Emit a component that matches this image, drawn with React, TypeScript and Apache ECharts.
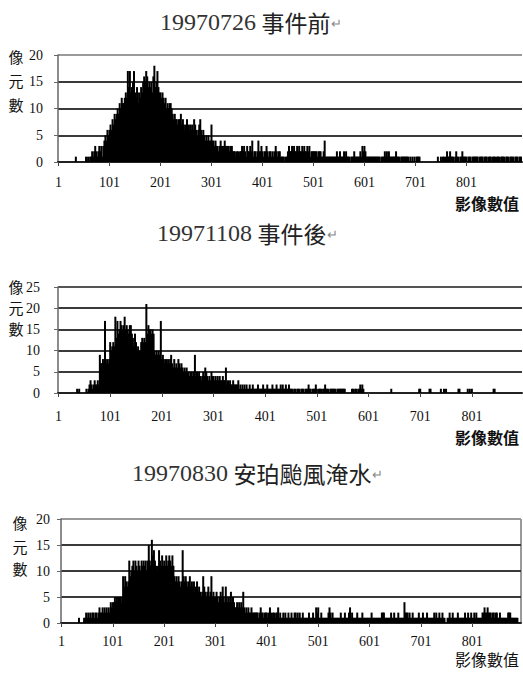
import React, { useEffect, useRef } from 'react';
import * as echarts from 'echarts';

// ---------- data ----------
const TITLE_DATES = ['19970726', '19971108', '19970830'];
const TITLE_EVENTS = ['事件前', '事件後', '安珀颱風淹水'];
const Y_NAME_CHARS = ['像', '元', '數'];
const X_NAME = '影像數值';
const X_TICK_LABELS = ['1', '101', '201', '301', '401', '501', '601', '701', '801'];
const Y_MAX = [20, 25, 20];
const Y_STEP = 5;
const BIN_WIDTH = 2; // each bar = 2 consecutive image values

// pixel counts per bin (image values 1-2, 3-4, ...)
const COUNTS_BEFORE = [
  0,0,0,0,0,0,0,0,0,0,
  0,0,0,0,0,0,0,1,0,0,
  0,0,0,0,0,0,0,1,0,1,
  0,1,1,2,1,2,3,2,1,2,
  3,2,3,1,3,4,5,4,6,5,
  6,7,6,8,7,9,8,9,10,9,
  11,10,12,11,11,12,13,12,17,14,
  17,13,14,15,17,13,12,14,11,13,
  12,14,13,15,16,15,17,16,14,15,
  14,15,13,16,18,14,15,17,14,13,
  13,12,13,12,11,12,10,11,10,11,
  11,10,9,8,9,8,8,7,8,8,
  9,7,8,7,6,7,8,7,6,7,
  6,7,6,8,7,6,5,6,7,8,
  6,5,6,5,4,5,4,5,4,4,
  7,4,4,3,4,3,3,2,3,4,
  3,3,3,4,3,3,3,3,2,3,
  3,2,2,2,1,2,2,1,2,2,
  3,2,3,2,1,3,2,2,3,2,
  4,1,2,2,1,2,4,2,2,3,
  2,1,2,2,3,2,1,2,2,1,
  2,1,2,3,2,1,2,2,1,1,
  1,1,0,1,1,2,3,2,2,3,
  2,3,2,2,3,2,3,2,2,3,
  2,3,2,2,3,2,3,1,2,2,
  2,2,2,2,1,2,2,2,1,1,
  2,4,1,1,1,1,1,1,1,1,
  1,1,1,2,1,1,2,1,1,1,
  2,1,2,1,1,1,0,1,1,1,
  2,1,1,1,1,1,2,1,3,2,
  3,2,1,1,1,1,1,1,1,1,
  1,1,1,1,1,1,0,1,1,1,
  2,1,2,1,2,1,1,1,1,1,
  1,2,1,1,1,0,1,1,1,1,
  1,1,1,1,0,1,0,1,0,1,
  0,1,1,1,1,0,0,0,0,0,
  0,0,0,0,0,0,0,0,0,0,
  0,0,1,0,0,1,0,1,1,0,
  1,2,1,1,2,1,1,1,0,1,
  2,1,1,0,1,1,2,1,1,1,
  1,0,1,1,1,0,1,1,1,1,
  1,1,0,1,1,1,1,0,1,1,
  1,0,1,1,1,0,1,1,1,0,
  1,1,1,0,1,1,1,1,0,1,
  1,1,0,1,1,1,1,0,1,1,
  1,0,1,1,1,
];

const COUNTS_AFTER = [
  0,0,0,0,0,0,0,0,0,0,
  0,0,0,0,0,0,0,0,1,0,
  1,0,0,0,0,0,0,1,0,1,
  2,3,2,1,2,3,2,2,3,2,
  9,7,7,8,7,17,7,8,7,8,
  12,10,11,12,11,18,13,17,14,15,
  17,16,15,16,18,15,16,15,14,16,
  16,14,13,11,14,12,10,11,10,10,
  12,13,12,13,12,21,14,16,15,15,
  14,15,14,10,9,10,9,10,9,17,
  8,9,8,7,8,7,8,7,8,9,
  7,6,8,6,7,6,8,7,6,7,
  6,5,6,5,6,5,5,4,5,5,
  4,5,9,4,5,4,5,4,3,4,
  5,4,6,5,4,3,4,3,5,4,
  4,3,4,3,4,3,4,3,3,4,
  3,3,6,2,3,2,3,2,2,3,
  2,2,2,2,3,1,2,1,2,1,
  2,1,2,1,1,2,1,1,2,1,
  1,1,1,2,1,1,1,1,2,1,
  1,1,2,1,1,1,1,2,1,1,
  1,2,1,1,1,2,1,2,1,1,
  2,1,1,2,1,1,1,0,1,1,
  0,1,1,1,0,1,1,1,0,1,
  1,1,2,1,1,0,1,1,1,2,
  1,0,1,1,1,0,1,1,2,1,
  1,1,0,1,1,1,1,1,1,0,
  1,1,1,1,1,1,1,1,0,0,
  0,0,0,0,1,1,0,1,1,0,
  1,1,2,1,2,1,0,0,0,0,
  0,0,0,0,0,0,0,0,0,0,
  0,0,0,0,0,0,0,0,0,0,
  0,0,1,0,0,0,0,0,0,0,
  0,0,0,0,0,0,0,0,0,0,
  0,0,0,0,0,0,0,0,0,1,
  1,0,0,0,0,0,0,0,0,1,
  1,0,0,0,0,0,0,0,0,0,
  1,0,0,1,0,1,0,0,0,0,
  0,0,0,0,0,0,0,1,1,0,
  0,0,0,0,0,0,1,0,1,0,
  1,0,0,0,0,0,0,0,0,0,
  0,0,0,0,0,0,0,0,0,0,
  0,1,1,0,0,0,0,0,0,0,
  0,0,0,0,0,0,0,0,0,0,
  0,0,0,0,0,0,0,0,0,
];

const COUNTS_FLOOD = [
  0,0,0,0,0,0,0,0,0,0,
  0,0,0,0,0,0,0,1,0,0,
  0,0,1,1,2,1,2,1,2,1,
  2,2,1,2,2,1,2,3,2,2,
  3,2,3,2,3,2,3,2,4,3,
  4,4,5,4,5,4,5,5,4,5,
  9,7,9,8,7,8,12,9,10,11,
  12,10,12,11,10,12,11,10,12,11,
  12,11,12,10,12,15,12,11,16,13,
  14,12,11,10,11,14,12,11,13,11,
  12,11,13,11,12,13,12,11,13,11,
  9,8,9,8,9,8,7,8,14,9,
  8,9,8,7,8,9,7,8,7,8,
  6,7,8,6,7,6,5,6,9,7,
  6,5,6,7,5,6,9,5,6,5,
  5,6,5,4,5,6,5,7,5,4,
  7,5,4,5,4,6,4,5,4,3,
  3,4,3,4,3,4,3,6,3,2,
  3,2,3,2,2,3,2,2,2,2,
  2,2,1,2,3,2,2,1,2,2,
  2,1,2,3,2,1,2,2,1,2,
  2,3,1,2,1,1,2,1,2,1,
  1,2,1,1,2,1,1,2,2,1,
  2,1,2,1,1,2,1,1,1,1,
  1,2,1,1,1,2,1,1,3,2,
  3,1,1,2,1,1,1,1,1,1,
  2,3,2,1,2,1,1,1,1,1,
  1,1,2,1,1,1,2,1,1,1,
  2,3,1,2,1,1,1,1,2,1,
  1,1,1,2,1,1,1,1,1,1,
  1,1,2,1,1,1,1,1,1,1,
  1,1,2,2,2,1,1,1,1,1,
  1,2,1,1,2,1,1,1,2,1,
  1,1,1,1,4,2,2,2,1,2,
  1,1,2,1,1,1,1,1,2,1,
  1,1,2,1,1,1,2,1,1,1,
  1,1,1,2,1,2,1,1,2,1,
  1,2,1,1,0,0,1,1,2,1,
  1,2,1,1,1,1,2,1,1,1,
  1,1,1,2,1,1,2,1,1,2,
  1,1,2,1,2,1,1,1,1,1,
  2,2,3,2,2,3,2,2,2,1,
  2,2,1,2,2,1,1,2,1,1,
  1,1,1,1,1,2,2,2,1,1,
  1,1,1,1,1,0,0,0,
];

const SERIES_DATA = [COUNTS_BEFORE, COUNTS_AFTER, COUNTS_FLOOD];

// ---------- layout (pixels) ----------
const PANELS = [
  { grid: { left: 58, top: 55, width: 464, height: 107 }, titleX: 160, titleY: 22,
    yNameX: 16, yNameYs: [56, 80, 104], yLabelMargin: 15, xLabelMargin: 13,
    xNameY: 203, xNameBold: true, topLine: '#9a9a9a', rightBorder: false },
  { grid: { left: 58, top: 287, width: 464, height: 106 }, titleX: 157, titleY: 233,
    yNameX: 16, yNameYs: [286, 307, 328], yLabelMargin: 18, xLabelMargin: 16,
    xNameY: 437, xNameBold: true, topLine: '#555', rightBorder: false },
  { grid: { left: 61, top: 519, width: 460, height: 104 }, titleX: 132, titleY: 473,
    yNameX: 20, yNameYs: [522, 546, 568], yLabelMargin: 11, xLabelMargin: 11,
    xNameY: 659, xNameBold: false, topLine: '#9a9a9a', rightBorder: true },
];

const SERIF = '"Liberation Serif", "Times New Roman", serif';
const CJK = '"Noto Sans CJK TC", "Noto Sans CJK SC", sans-serif';

function buildOption() {
  const grids: any[] = [];
  const xAxes: any[] = [];
  const yAxes: any[] = [];
  const series: any[] = [];
  const graphics: any[] = [];
  const showTick = (_idx: number, val: string) => X_TICK_LABELS.includes(val);

  PANELS.forEach((p, i) => {
    const data = SERIES_DATA[i];
    const cats = data.map((_, k) => String(1 + k * BIN_WIDTH));
    grids.push({ ...p.grid, containLabel: false });
    xAxes.push({
      type: 'category',
      gridIndex: i,
      data: cats,
      boundaryGap: true,
      axisLine: { show: true, lineStyle: { color: '#222', width: 2 } },
      axisTick: { show: true, interval: showTick, alignWithLabel: true, length: 4, lineStyle: { color: '#444' } },
      axisLabel: { interval: showTick, margin: p.xLabelMargin, fontFamily: SERIF, fontSize: 14, color: '#111' },
      splitLine: { show: false },
    });
    const nLines = Y_MAX[i] / Y_STEP + 1;
    const colors = Array.from({ length: nLines }, (_, k) => (k === nLines - 1 ? p.topLine : '#3a3a3a'));
    yAxes.push({
      type: 'value',
      gridIndex: i,
      min: 0,
      max: Y_MAX[i],
      interval: Y_STEP,
      axisLine: { show: true, lineStyle: { color: '#666', width: 1.5 } },
      axisTick: { show: true, length: 4, lineStyle: { color: '#666' } },
      axisLabel: { margin: p.yLabelMargin, fontFamily: SERIF, fontSize: 14, color: '#111' },
      splitLine: { show: true, lineStyle: { color: colors, width: 2 } },
    });
    series.push({
      type: 'bar',
      xAxisIndex: i,
      yAxisIndex: i,
      data,
      barWidth: 2,
      itemStyle: { color: '#000' },
      silent: true,
    });

    // title
    graphics.push({
      type: 'text',
      x: p.titleX,
      y: p.titleY,
      style: {
        text: `{a|${TITLE_DATES[i]}}{s| }{b|${TITLE_EVENTS[i]}}{c|↵}`,
        textAlign: 'left',
        textVerticalAlign: 'middle',
        rich: {
          a: { fontFamily: SERIF, fontSize: 24, fill: '#333', color: '#333' },
          s: { fontFamily: SERIF, fontSize: 22 },
          b: { fontFamily: CJK, fontSize: 23, fill: '#222', color: '#222' },
          c: { fontFamily: CJK, fontSize: 13, fill: '#888', color: '#888' },
        },
      },
    });
    // y axis name (stacked characters)
    Y_NAME_CHARS.forEach((ch, k) => {
      graphics.push({
        type: 'text',
        x: p.yNameX,
        y: p.yNameYs[k],
        style: {
          text: ch,
          font: `normal 15px ${CJK}`,
          fill: '#111',
          textAlign: 'center',
          textVerticalAlign: 'middle',
        },
      });
    });
    // x axis name
    graphics.push({
      type: 'text',
      x: 519,
      y: p.xNameY,
      style: {
        text: X_NAME,
        font: `${p.xNameBold ? 'bold' : 'normal'} 16px ${CJK}`,
        fill: '#111',
        textAlign: 'right',
        textVerticalAlign: 'middle',
      },
    });
    if (p.rightBorder) {
      const xr = p.grid.left + p.grid.width;
      graphics.push({
        type: 'line',
        shape: { x1: xr, y1: p.grid.top, x2: xr, y2: p.grid.top + p.grid.height },
        style: { stroke: '#9a9a9a', lineWidth: 2 },
      });
    }
  });

  return {
    animation: false,
    backgroundColor: '#fff',
    grid: grids,
    xAxis: xAxes,
    yAxis: yAxes,
    series,
    graphic: { elements: graphics },
  };
}

export default function App() {
  const ref = useRef<HTMLDivElement>(null);
  useEffect(() => {
    if (!ref.current) return;
    const chart = echarts.init(ref.current, undefined, { renderer: 'svg' });
    chart.setOption(buildOption() as any);
    return () => chart.dispose();
  }, []);
  return (
    <div
      ref={ref}
      style={{ position: 'absolute', left: 0, top: 0, width: 523, height: 673, background: '#fff' }}
    />
  );
}
